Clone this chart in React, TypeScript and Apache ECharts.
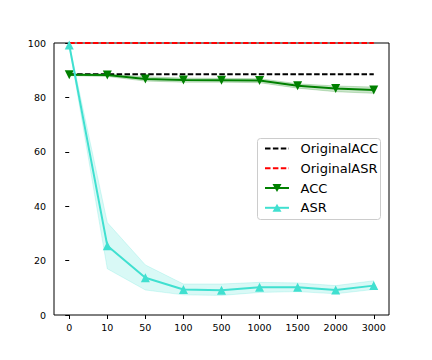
import React, { useEffect, useRef } from "react";
import * as echarts from "echarts";

const CATEGORIES = ["0", "10", "50", "100", "500", "1000", "1500", "2000", "3000"];
const ORIGINAL_ACC = [88.5, 88.5, 88.5, 88.5, 88.5, 88.5, 88.5, 88.5, 88.5];
const ORIGINAL_ASR = [100, 100, 100, 100, 100, 100, 100, 100, 100];
const ACC = [88.3, 88.2, 86.8, 86.4, 86.3, 86.2, 84.3, 83.3, 82.7];
const ACC_LOW = [88.0, 87.7, 86.0, 85.6, 85.6, 85.4, 83.4, 82.1, 81.5];
const ACC_HIGH = [88.6, 88.6, 87.6, 87.1, 87.0, 86.9, 85.0, 84.2, 83.8];
const ASR = [99.3, 25.5, 13.7, 9.4, 9.1, 10.2, 10.2, 9.2, 10.8];
const ASR_LOW = [99.0, 17.0, 9.2, 7.4, 7.2, 8.3, 8.6, 7.8, 9.4];
const ASR_HIGH = [99.6, 34.0, 18.4, 11.4, 11.4, 12.0, 11.8, 10.8, 12.6];
const Y_TICKS = [0, 20, 40, 60, 80, 100];
const LEGEND_NAMES = ["OriginalACC", "OriginalASR", "ACC", "ASR"];

const FONT = "DejaVu Sans";
const GREEN = "#008000";
const TURQ = "#40E0D0";
const RED = "#ff0000";
const DASH = [5.5, 2.4];

const pairs = (arr: number[]) => arr.map((v, i) => [i, v]);

export default function App() {
  const ref = useRef<HTMLDivElement>(null);
  useEffect(() => {
    if (!ref.current) return;
    const chart = echarts.init(ref.current, null, { renderer: "svg" });
    const idx = CATEGORIES.map((_, i) => i);
    const bandSeries = (name: string, low: number[], high: number[], color: string) => ({
      name,
      type: "custom",
      silent: true,
      z: 1,
      data: [0],
      renderItem: (_params: any, api: any) => {
        const top = high.map((v, i) => api.coord([i, v]));
        const bottom = low.map((v, i) => api.coord([i, v])).reverse();
        return {
          type: "polygon",
          shape: { points: top.concat(bottom) },
          style: { fill: color, stroke: color, lineWidth: 1 },
        };
      },
    });

    // legend drawn with graphic elements
    const LX = 257.5, LY = 138.5, LW = 123, LH = 81;
    const rowY = [148.5, 168.3, 188, 207.8];
    const lineX1 = 265, lineX2 = 289, textX = 300.5, mX = 277;
    const colors = ["#000", RED, GREEN, TURQ];
    const legendEls: any[] = [
      {
        type: "rect",
        shape: { x: LX, y: LY, width: LW, height: LH, r: 3 },
        style: { fill: "rgba(255,255,255,0.8)", stroke: "#cccccc", lineWidth: 1 },
      },
    ];
    LEGEND_NAMES.forEach((name, i) => {
      const y = rowY[i];
      legendEls.push({
        type: "line",
        shape: { x1: lineX1, y1: y, x2: lineX2, y2: y },
        style: { stroke: colors[i], lineWidth: 2, lineDash: i < 2 ? DASH : null },
      });
      if (i === 2) {
        legendEls.push({
          type: "polygon",
          shape: { points: [[mX - 4.5, y - 4], [mX + 4.5, y - 4], [mX, y + 4]] },
          style: { fill: GREEN },
        });
      }
      if (i === 3) {
        legendEls.push({
          type: "polygon",
          shape: { points: [[mX - 4.5, y + 4], [mX + 4.5, y + 4], [mX, y - 4]] },
          style: { fill: TURQ },
        });
      }
      legendEls.push({
        type: "text",
        x: textX,
        y,
        style: {
          text: name,
          fill: "#000",
          font: `13px "${FONT}"`,
          verticalAlign: "middle",
          align: "left",
        },
      });
    });

    chart.setOption({
      animation: false,
      grid: {
        left: 54,
        right: 43,
        top: 43,
        bottom: 45,
        show: true,
        borderColor: "#000",
        borderWidth: 1,
        backgroundColor: "transparent",
      },
      xAxis: {
        type: "value",
        min: -0.4,
        max: 8.4,
        splitLine: { show: false },
        axisLine: { show: false },
        axisTick: { show: true, length: 4, customValues: idx, lineStyle: { color: "#000" } },
        axisLabel: {
          customValues: idx,
          formatter: (v: number) => CATEGORIES[Math.round(v)] ?? "",
          color: "#000",
          fontFamily: FONT,
          fontSize: 9.5,
          margin: 7,
        },
      },
      yAxis: {
        type: "value",
        min: 0,
        max: 100,
        interval: 20,
        splitLine: { show: false },
        axisLine: { show: false },
        axisTick: { show: true, length: 4, lineStyle: { color: "#000" } },
        axisLabel: {
          color: "#000",
          fontFamily: FONT,
          fontSize: 9.5,
          margin: 8,
          formatter: (v: number) => (Y_TICKS.includes(v) ? String(v) : ""),
        },
      },
      graphic: [{ type: "group", z: 100, children: legendEls }],
      series: [
        bandSeries("accBand", ACC_LOW, ACC_HIGH, "rgba(0,128,0,0.2)"),
        bandSeries("asrBand", ASR_LOW, ASR_HIGH, "rgba(64,224,208,0.2)"),
        {
          name: LEGEND_NAMES[0],
          type: "line",
          data: pairs(ORIGINAL_ACC),
          symbol: "none",
          lineStyle: { color: "#000", width: 2, type: DASH },
          z: 2,
        },
        {
          name: LEGEND_NAMES[1],
          type: "line",
          data: pairs(ORIGINAL_ASR),
          symbol: "none",
          lineStyle: { color: RED, width: 2, type: DASH },
          z: 2,
        },
        {
          name: LEGEND_NAMES[2],
          type: "line",
          data: pairs(ACC),
          symbol: "triangle",
          symbolRotate: 180,
          symbolSize: 9,
          itemStyle: { color: GREEN },
          lineStyle: { color: GREEN, width: 2 },
          z: 3,
        },
        {
          name: LEGEND_NAMES[3],
          type: "line",
          data: pairs(ASR),
          symbol: "triangle",
          symbolSize: 9,
          itemStyle: { color: TURQ },
          lineStyle: { color: TURQ, width: 2 },
          z: 4,
        },
      ],
    });
    return () => chart.dispose();
  }, []);
  return (
    <div
      ref={ref}
      style={{ position: "fixed", left: 0, top: 0, width: 432, height: 360, background: "#fff" }}
    />
  );
}
